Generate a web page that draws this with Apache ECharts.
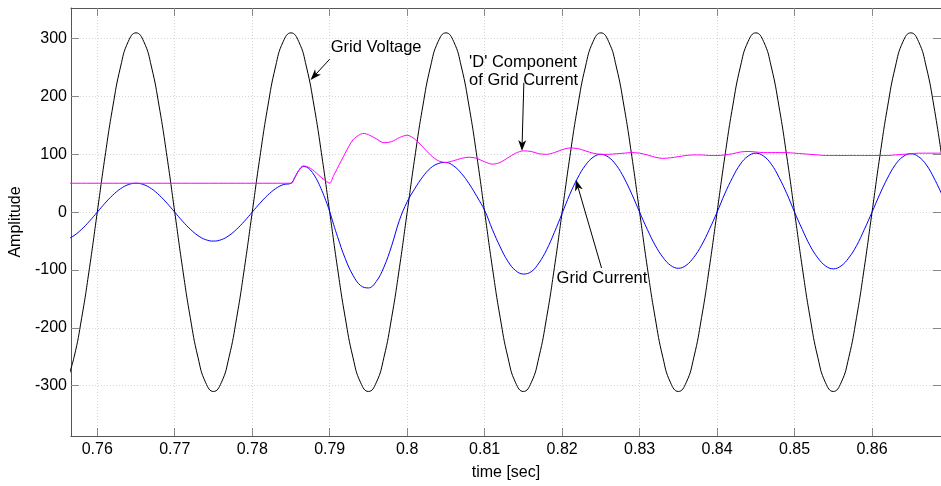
<!DOCTYPE html>
<html>
<head>
<meta charset="utf-8">
<title>Grid voltage and current</title>
<script src="https://cdn.jsdelivr.net/npm/echarts@6/dist/echarts.min.js"></script>
<style>
  html, body { margin: 0; padding: 0; background: #fff; }
  #chart { width: 941px; height: 486px; }
</style>
</head>
<body>
<div id="chart"></div>
<script>
// Grid voltage [V], sampled every 1 ms starting at t = 0.756 s
const voltStart = 0.756;
const voltStep = 0.001;
const voltage = [
  -295, -251, -182, -96,
  0, 96, 182, 251, 295, 310, 295, 251, 182, 96, 0, -96, -182, -251, -295, -310, -295, -251, -182, -96,
  0, 96, 182, 251, 295, 310, 295, 251, 182, 96, 0, -96, -182, -251, -295, -310, -295, -251, -182, -96,
  0, 96, 182, 251, 295, 310, 295, 251, 182, 96, 0, -96, -182, -251, -295, -310, -295, -251, -182, -96,
  0, 96, 182, 251, 295, 310, 295, 251, 182, 96, 0, -96, -182, -251, -295, -310, -295, -251, -182, -96,
  0, 96, 182, 251, 295, 310, 295, 251, 182, 96, 0, -96, -182, -251, -295, -310, -295, -251, -182, -96,
  0, 96, 182, 251, 295, 310, 295, 251, 182, 96
];

// Grid current: sample times [s] and values [A]
const currentTime = [
  0.756, 0.757, 0.758, 0.759, 0.760, 0.761, 0.762, 0.763, 0.764, 0.765,
  0.766, 0.767, 0.768, 0.769, 0.770, 0.771, 0.772, 0.773, 0.774, 0.775,
  0.776, 0.777, 0.778, 0.779, 0.780, 0.781, 0.782, 0.783, 0.784, 0.785,
  0.7855, 0.786, 0.7866, 0.787, 0.7875, 0.788, 0.7885, 0.789, 0.7895, 0.790,
  0.7905, 0.791, 0.792, 0.793, 0.794, 0.795, 0.796, 0.797, 0.798, 0.799,
  0.800, 0.801, 0.802, 0.803, 0.804, 0.805, 0.806, 0.807, 0.808, 0.809,
  0.810, 0.811, 0.812, 0.813, 0.814, 0.815, 0.816, 0.817, 0.818, 0.819,
  0.820, 0.821, 0.822, 0.823, 0.824, 0.825, 0.826, 0.827, 0.828, 0.829,
  0.830, 0.831, 0.832, 0.833, 0.834, 0.835, 0.836, 0.837, 0.838, 0.839,
  0.840, 0.841, 0.842, 0.843, 0.844, 0.845, 0.846, 0.847, 0.848, 0.849,
  0.850, 0.851, 0.852, 0.853, 0.854, 0.855, 0.856, 0.857, 0.858, 0.859,
  0.860, 0.861, 0.862, 0.863, 0.864, 0.865, 0.866, 0.867, 0.868, 0.869
];
const current = [
  -47.6, -40.5, -29.4, -15.5, 0, 15.5, 29.4, 40.5, 47.6, 50,
  47.6, 40.5, 29.4, 15.5, 0, -15.5, -29.4, -40.5, -47.6, -50,
  -47.6, -40.5, -29.4, -15.5, 0, 15.5, 29.4, 40.5, 47.6, 50,
  60, 72, 79, 78, 73, 64, 52, 37, 20, 1,
  -21, -42, -80, -109, -127, -131, -120, -95, -58, -14,
  18, 41, 61, 76, 84, 86, 80, 67, 49, 27,
  3, -30, -60, -85, -101, -107, -103, -88, -65, -35,
  -2, 31, 59, 81, 95, 100, 95, 81, 59, 31,
  0, -30, -57, -78, -92, -97, -92, -78, -57, -30,
  0, 32, 60, 83, 97, 102, 97, 83, 60, 32,
  0, -30, -58, -79, -93, -98, -93, -79, -58, -30,
  0, 31, 59, 82, 96, 101, 96, 82, 59, 31
];

// 'D' component of the grid current: sample times [s] and values [A]
const dTime = [
  0.756, 0.785,
  0.7855, 0.786, 0.7866, 0.787, 0.7875, 0.788, 0.7885, 0.789, 0.7895, 0.790,
  0.7905, 0.791, 0.792, 0.793, 0.794, 0.7945, 0.795, 0.796, 0.797, 0.798, 0.799,
  0.800, 0.801, 0.802, 0.803, 0.804, 0.805, 0.806, 0.807, 0.808, 0.809,
  0.810, 0.811, 0.812, 0.813, 0.814, 0.815, 0.816, 0.817, 0.818, 0.819,
  0.820, 0.821, 0.822, 0.823, 0.824, 0.825, 0.826, 0.827, 0.828, 0.829,
  0.830, 0.831, 0.832, 0.833, 0.834, 0.835, 0.836, 0.837, 0.838, 0.839,
  0.840, 0.841, 0.842, 0.843, 0.844, 0.845, 0.846, 0.847, 0.848, 0.849,
  0.850, 0.851, 0.852, 0.853, 0.854, 0.855, 0.856, 0.857, 0.858, 0.859,
  0.860, 0.861, 0.862, 0.863, 0.864, 0.865, 0.866, 0.867, 0.868, 0.869
];
const dComponent = [
  50, 50,
  60, 72, 80, 79, 76, 71, 65, 59, 54, 50,
  63, 76, 102, 125, 135, 136, 134, 127, 120, 122, 129,
  133, 126, 113, 99, 89, 86, 89, 93, 95, 93,
  87, 83, 86, 94, 102, 106, 105, 101, 100, 103,
  108, 111, 110, 106, 102, 100, 100, 101, 102, 103,
  102, 99, 95, 93, 94, 96, 98, 99, 99, 98,
  98, 99, 101, 104, 105, 104, 103, 103, 103, 103,
  102, 101, 100, 99, 98, 98, 98, 98, 98, 98,
  98, 98, 98, 99, 100, 101, 102, 102, 102, 102
];

// Axis ticks
const xTicks = [0.76, 0.77, 0.78, 0.79, 0.80, 0.81, 0.82, 0.83, 0.84, 0.85, 0.86];
const yTicks = [-300, -200, -100, 0, 100, 200, 300];

const X_MIN = 0.7566, X_MAX = 0.8689;
const Y_MIN = -387, Y_MAX = 353;

const FONT = '"Liberation Sans", Arial, Helvetica, sans-serif';

const zip = (xs, ys) => xs.map((x, i) => [x, ys[i]]);
const voltageData = voltage.map((v, i) => [+(voltStart + i * voltStep).toFixed(4), v]);

const gridLine = { show: true, lineStyle: { color: '#d4d4d4', width: 1, type: [1, 2] } };
const frameLine = { show: true, onZero: false, lineStyle: { color: '#555', width: 1 } };
const tickStyle = { color: '#888', width: 1 };

const chart = echarts.init(document.getElementById('chart'), null, { renderer: 'canvas' });

chart.setOption({
  animation: false,
  backgroundColor: '#fff',
  grid: { left: 67, top: 8, right: -4, bottom: 46, containLabel: false },
  xAxis: [
    {
      type: 'value', min: X_MIN, max: X_MAX, position: 'bottom',
      name: 'time [sec]', nameLocation: 'middle', nameGap: 29,
      nameTextStyle: { color: '#000', fontSize: 16, fontFamily: FONT },
      axisLine: frameLine,
      axisTick: { show: true, inside: true, length: 8, customValues: xTicks, lineStyle: tickStyle },
      axisLabel: {
        customValues: xTicks, color: '#000', fontSize: 16, fontFamily: FONT, margin: 6,
        formatter: v => String(+(+v).toFixed(2))
      },
      splitLine: gridLine
    },
    {
      type: 'value', min: X_MIN, max: X_MAX, position: 'top',
      axisLine: frameLine,
      axisTick: { show: true, inside: true, length: 8, customValues: xTicks, lineStyle: tickStyle },
      axisLabel: { show: false },
      splitLine: { show: false }
    }
  ],
  yAxis: [
    {
      type: 'value', min: Y_MIN, max: Y_MAX, position: 'left',
      name: 'Amplitude', nameLocation: 'middle', nameGap: 38, nameRotate: 90,
      nameTextStyle: { color: '#000', fontSize: 16, fontFamily: FONT },
      axisLine: frameLine,
      axisTick: { show: true, inside: true, length: 8, customValues: yTicks, lineStyle: tickStyle },
      axisLabel: { customValues: yTicks, color: '#000', fontSize: 16, fontFamily: FONT, margin: 4 },
      splitLine: gridLine
    },
    {
      type: 'value', min: Y_MIN, max: Y_MAX, position: 'right',
      axisLine: frameLine,
      axisTick: { show: true, inside: true, length: 8, customValues: yTicks, lineStyle: tickStyle },
      axisLabel: { show: false },
      splitLine: { show: false }
    }
  ],
  series: [
    {
      name: 'Grid Voltage', type: 'line', data: voltageData,
      showSymbol: false, smooth: 0.5, clip: true,
      lineStyle: { color: '#000', width: 1 }
    },
    {
      name: 'Grid Current', type: 'line', data: zip(currentTime, current),
      showSymbol: false, smooth: 0.4, clip: true,
      lineStyle: { color: '#0000ff', width: 1 }
    },
    {
      name: "'D' Component of Grid Current", type: 'line', data: zip(dTime, dComponent),
      showSymbol: false, smooth: 0.3, clip: true,
      lineStyle: { color: '#ff00ff', width: 1 }
    }
  ]
});

// Text callouts with arrows, anchored in data coordinates [t, value]
const callouts = [
  { lines: ['Grid Voltage'], textAt: [0.79013, 284.6], from: [0.7900, 264.5], to: [0.78753, 228.5] },
  { lines: ["'D' Component", 'of Grid Current'], textAt: [0.80799, 258.9], from: [0.81506, 223.8], to: [0.81481, 105.6] },
  { lines: ['Grid Current'], textAt: [0.81928, -113.8], from: [0.82509, -96.7], to: [0.82177, 55.9] }
];

function drawCallouts() {
  const finder = { xAxisIndex: 0, yAxisIndex: 0 };
  const elements = [];
  const LINE_H = 18.4;
  callouts.forEach(c => {
    const p0 = chart.convertToPixel(finder, c.from);
    const p1 = chart.convertToPixel(finder, c.to);
    const dx = p1[0] - p0[0], dy = p1[1] - p0[1];
    const len = Math.hypot(dx, dy);
    const ux = dx / len, uy = dy / len, nx = -uy, ny = ux;
    const headLen = 11, halfW = 4, notch = 8;
    const back = [p1[0] - ux * headLen, p1[1] - uy * headLen];
    const mid = [p1[0] - ux * notch, p1[1] - uy * notch];
    elements.push({
      type: 'line', silent: true,
      shape: { x1: p0[0], y1: p0[1], x2: mid[0], y2: mid[1] },
      style: { stroke: '#000', lineWidth: 1 }
    });
    elements.push({
      type: 'polygon', silent: true,
      shape: { points: [p1, [back[0] + nx * halfW, back[1] + ny * halfW], mid, [back[0] - nx * halfW, back[1] - ny * halfW]] },
      style: { fill: '#000' }
    });
    const t = chart.convertToPixel(finder, c.textAt);
    c.lines.forEach((s, i) => {
      elements.push({
        type: 'text', silent: true,
        x: t[0], y: t[1] + i * LINE_H,
        style: { text: s, fill: '#000', fontSize: 16.5, fontFamily: FONT, align: 'left', verticalAlign: 'middle' }
      });
    });
  });
  chart.setOption({ graphic: { elements } });
}
drawCallouts();
</script>
</body>
</html>
